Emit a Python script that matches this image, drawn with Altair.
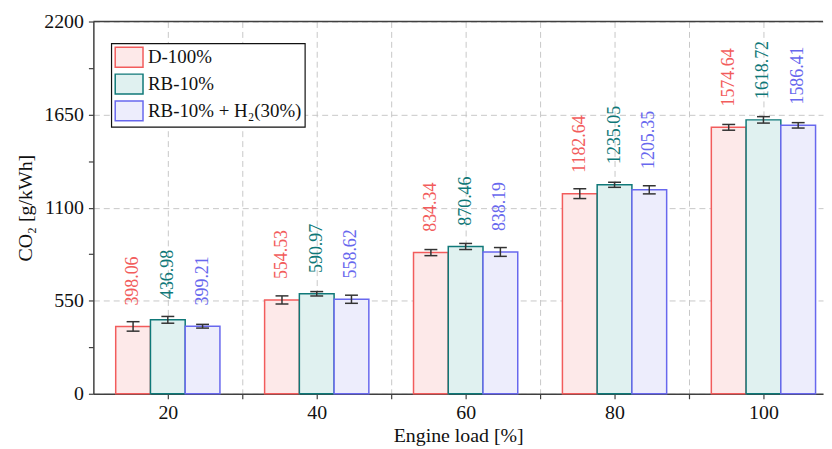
import altair as alt
import pandas as pd

loads = [20, 40, 60, 80, 100]
series = ["D-100%", "RB-10%", "RB-10% + H₂(30%)"]
d100 = [398.06, 554.53, 834.34, 1182.64, 1574.64]
rb10 = [436.98, 590.97, 870.46, 1235.05, 1618.72]
rbh2 = [399.21, 558.62, 838.19, 1205.35, 1586.41]
err_d100 = [28, 24, 18, 29, 17]
err_rb10 = [20, 13, 18, 15, 19]
err_rbh2 = [11, 24, 26, 24, 16]

stroke_colors = ["#f25c5c", "#0f7878", "#6868ee"]
fill_colors = ["#fde9e9", "#e0f1f0", "#ededfc"]

rows = []
for k, (name, vals, errs) in enumerate(zip(series, [d100, rb10, rbh2], [err_d100, err_rb10, err_rbh2])):
    for load, v, e in zip(loads, vals, errs):
        rows.append({"load": load, "series": name, "k": k, "value": v, "err": e,
                     "label": f"{v:.2f}"})
df = pd.DataFrame(rows)

FONT = "Liberation Serif"
W = 735
PX_PER_UNIT = 7.5
XMAX = 10 + W / PX_PER_UNIT
H = 375
BW = 35 / PX_PER_UNIT   # bar width in data units
CAP = 6.5 / PX_PER_UNIT

base = alt.Chart(df).transform_calculate(
    xc=f"datum.load + (datum.k - 1) * {BW}",
    x0=f"datum.load + (datum.k - 1) * {BW} - {BW / 2}",
    x1=f"datum.load + (datum.k - 1) * {BW} + {BW / 2}",
    lo="datum.value - datum.err",
    hi="datum.value + datum.err",
    c0=f"datum.load + (datum.k - 1) * {BW} - {CAP}",
    c1=f"datum.load + (datum.k - 1) * {BW} + {CAP}",
)

xscale = alt.Scale(domain=[10, XMAX], nice=False, zero=False)
yscale = alt.Scale(domain=[0, 2200], nice=False)

xaxis = alt.Axis(
    values=[20, 30, 40, 50, 60, 70, 80, 90, 100],
    labelExpr="datum.value % 20 == 0 ? datum.label : ''",
    title="Engine load [%]",
    grid=True, gridDash=[6, 4], gridColor="#c8c8c8", gridWidth=1,
    domainColor="#404040", domainWidth=1.5,
    tickColor="#404040", tickWidth=1.2, tickSize=5,
    labelFont=FONT, labelFontSize=20, labelColor="#111", labelPadding=4,
    titleFont=FONT, titleFontSize=20, titleFontWeight="normal", titleColor="#111",
    titlePadding=3, labelFlush=False,
)
yaxis = alt.Axis(
    values=[0, 275, 550, 825, 1100, 1375, 1650, 1925, 2200],
    labelExpr="datum.value % 550 == 0 ? datum.label : ''",
    format="d",
    title="CO₂ [g/kWh]",
    grid=True, gridDash=[6, 4], gridColor="#c8c8c8", gridWidth=1,
    gridOpacity={"condition": {"test": "datum.value % 550 == 0", "value": 1}, "value": 0},
    domainColor="#404040", domainWidth=1.5,
    tickColor="#404040", tickWidth=1.2, tickSize=5,
    labelFont=FONT, labelFontSize=20, labelColor="#111", labelPadding=5,
    titlePadding=8,
    titleFont=FONT, titleFontSize=20, titleFontWeight="normal", titleColor="#111",
    labelFlush=False,
)

bars = base.mark_bar(strokeWidth=1.5).encode(
    x=alt.X("x0:Q", scale=xscale, axis=xaxis),
    x2="x1:Q",
    y=alt.Y("value:Q", scale=yscale, axis=yaxis),
    y2=alt.datum(0),
    fill=alt.Fill("series:N", scale=alt.Scale(domain=series, range=fill_colors),
                  sort=series,
                  legend=alt.Legend(
                      title=None, orient="none", legendX=18, legendY=22,
                      symbolType="M-1.4,-1H1.4V1H-1.4Z", symbolSize=400,
                      symbolStrokeWidth=1.5, symbolOffset=4,
                      labelFont=FONT, labelFontSize=19, labelColor="#111",
                      labelOffset=8, rowPadding=1, padding=3,
                      strokeColor="#111", fillColor="white",
                      labelLimit=300,
                  )),
    stroke=alt.Stroke("series:N", scale=alt.Scale(domain=series, range=stroke_colors),
                      sort=series),
)

errs = base.mark_rule(color="#333333", strokeWidth=1.5).encode(
    x=alt.X("xc:Q", scale=xscale), y=alt.Y("lo:Q", scale=yscale), y2="hi:Q",
)
cap_hi = base.mark_rule(color="#333333", strokeWidth=1.5).encode(
    x=alt.X("c0:Q", scale=xscale), x2="c1:Q", y=alt.Y("hi:Q", scale=yscale),
)
cap_lo = base.mark_rule(color="#333333", strokeWidth=1.5).encode(
    x=alt.X("c0:Q", scale=xscale), x2="c1:Q", y=alt.Y("lo:Q", scale=yscale),
)

labels = base.mark_text(angle=270, align="left", baseline="middle", dx=21,
                        font=FONT, fontSize=18).encode(
    x=alt.X("xc:Q", scale=xscale),
    y=alt.Y("value:Q", scale=yscale),
    text="label:N",
    color=alt.Color("series:N", scale=alt.Scale(domain=series, range=stroke_colors),
                    legend=None),
)

top = alt.Chart(pd.DataFrame({"v": [2200]})).mark_rule(color="#404040", strokeWidth=1.5).encode(
    y=alt.Y("v:Q", scale=yscale)
)

chart = alt.layer(bars, errs, cap_hi, cap_lo, labels, top).properties(
    width=W, height=H,
    padding={"left": 8, "top": 2, "right": 0, "bottom": 0},
).resolve_scale(color="independent").configure_view(stroke=None).configure_legend(strokeWidth=1.2)

chart.save("out.html", embed_options={"renderer": "svg", "actions": False})
